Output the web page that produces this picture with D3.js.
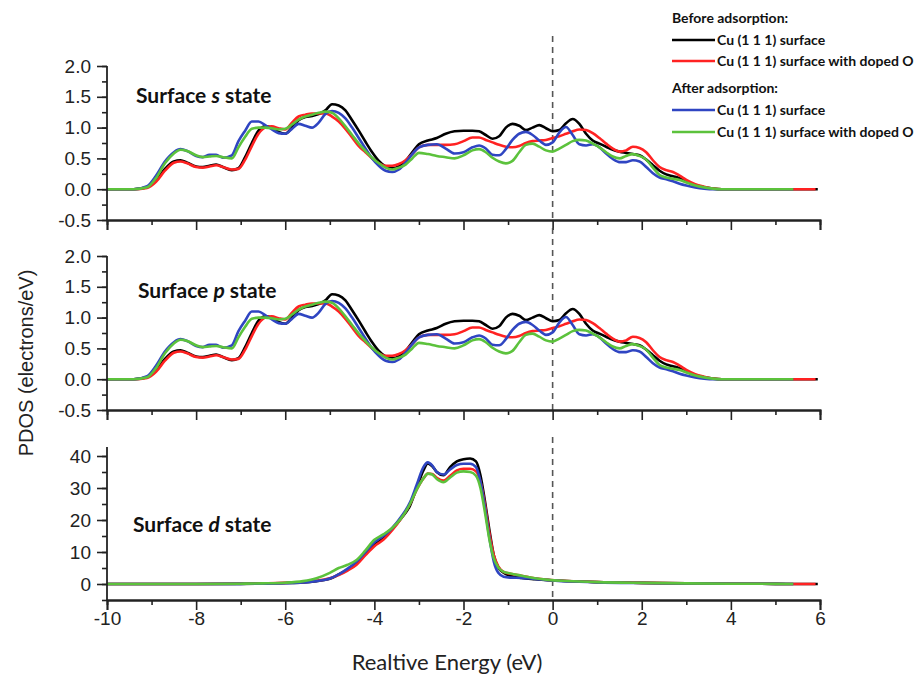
<!DOCTYPE html>
<html><head><meta charset="utf-8">
<script src="https://cdn.jsdelivr.net/npm/d3@7"></script>
<style>body{margin:0;background:#fff}</style>
</head><body><svg id="c" width="916" height="678"></svg>
<script>
// ---------------- data ----------------
const legendGroups = ["Before adsorption:", "After adsorption:"];
const seriesNames = ["Cu (1 1 1) surface", "Cu (1 1 1) surface with doped O", "Cu (1 1 1) surface", "Cu (1 1 1) surface with doped O"];
const seriesColors = ["#000000", "#ff2222", "#2f45c2", "#5cc23c"];
const xTicks = [-10, -8, -6, -4, -2, 0, 2, 4, 6];
const spTicks = [-0.5, 0.0, 0.5, 1.0, 1.5, 2.0];
const dTicks = [0, 10, 20, 30, 40];
const xTitle = "Realtive Energy (eV)";
const yTitle = "PDOS (electrons/eV)";
const panelLetters = ["s", "p", "d"];

// s (and p) state energy grid (eV)
const sEnergy = [-10,-9.4,-9.1,-8.9,-8.7,-8.5,-8.35,-8.2,-8.0,-7.85,-7.7,-7.55,-7.4,-7.2,-7.05,
 -6.9,-6.75,-6.6,-6.45,-6.3,-6.15,-6.0,-5.85,-5.7,-5.55,-5.4,-5.25,-5.1,-4.95,-4.8,-4.65,-4.5,-4.35,-4.2,-4.05,-3.9,-3.75,-3.6,-3.45,-3.3,-3.15,-3.0,
 -2.8,-2.6,-2.4,-2.2,-2.0,-1.8,
 -1.65,-1.5,-1.35,-1.2,-1.05,-0.9,-0.75,-0.6,-0.45,-0.3,-0.15,0,0.15,0.3,0.45,0.6,0.75,0.9,1.05,1.2,1.35,1.5,1.65,1.8,1.95,2.1,2.25,2.4,2.55,2.7,2.85,3.0,
 3.2,3.4,3.6,3.8,4.0,4.5,5.0,5.4,5.9,5.95];
const sBeforeCu = [0,0,0.03,0.15,0.33,0.45,0.47,0.43,0.37,0.36,0.38,0.40,0.36,0.31,0.34,
 0.52,0.75,0.95,1.02,1.0,0.93,0.9,1.0,1.12,1.17,1.19,1.22,1.28,1.38,1.36,1.28,1.12,0.95,0.77,0.6,0.46,0.37,0.34,0.37,0.46,0.6,0.73,
 0.79,0.83,0.9,0.94,0.95,0.95,
 0.94,0.88,0.82,0.86,1.0,1.06,1.03,0.96,1.0,1.04,0.99,0.94,0.96,1.07,1.14,1.06,0.9,0.79,0.74,0.69,0.64,0.61,0.59,0.57,0.55,0.48,0.39,0.3,0.24,0.21,0.18,0.13,
 0.07,0.03,0.01,0,0,0,0,0,0,0];
const sBeforeDoped = [0,0,0.02,0.12,0.3,0.43,0.45,0.42,0.36,0.35,0.37,0.39,0.36,0.32,0.33,
 0.48,0.7,0.9,1.0,1.02,0.99,0.97,1.08,1.18,1.21,1.23,1.23,1.23,1.18,1.1,0.98,0.84,0.7,0.6,0.5,0.42,0.38,0.38,0.41,0.47,0.57,0.68,
 0.72,0.72,0.72,0.73,0.78,0.84,
 0.84,0.8,0.76,0.72,0.69,0.68,0.7,0.75,0.78,0.79,0.8,0.83,0.86,0.9,0.94,0.97,0.96,0.91,0.83,0.74,0.66,0.61,0.63,0.69,0.67,0.6,0.47,0.36,0.31,0.28,0.22,0.15,
 0.08,0.04,0.01,0,0,0,0,0,0,null];
const sAfterCu = [0,0,0.05,0.22,0.45,0.6,0.65,0.62,0.54,0.52,0.56,0.56,0.51,0.55,0.78,
 0.95,1.1,1.1,1.04,0.97,0.91,0.9,0.98,1.06,1.03,1.0,1.08,1.22,1.27,1.24,1.15,1.0,0.83,0.66,0.5,0.38,0.3,0.28,0.32,0.43,0.57,0.68,
 0.72,0.73,0.66,0.58,0.6,0.68,
 0.71,0.66,0.56,0.55,0.65,0.8,0.9,0.93,0.88,0.79,0.72,0.76,0.92,1.01,0.88,0.73,0.71,0.73,0.68,0.58,0.49,0.44,0.44,0.47,0.45,0.36,0.26,0.19,0.16,0.13,0.09,0.06,
 0.03,0.01,0,0,0,0,0,0,null,null];
const sAfterDoped = [0,0,0.03,0.18,0.42,0.58,0.64,0.62,0.55,0.52,0.53,0.54,0.52,0.5,0.68,
 0.85,0.98,1.0,1.0,0.99,0.97,0.98,1.05,1.13,1.18,1.21,1.24,1.26,1.24,1.15,1.02,0.88,0.74,0.62,0.51,0.42,0.35,0.32,0.35,0.4,0.5,0.59,
 0.57,0.54,0.52,0.5,0.55,0.63,
 0.65,0.6,0.51,0.45,0.42,0.46,0.6,0.72,0.74,0.69,0.63,0.61,0.66,0.72,0.78,0.8,0.79,0.74,0.68,0.6,0.53,0.5,0.54,0.57,0.54,0.48,0.35,0.23,0.19,0.17,0.15,0.11,
 0.06,0.03,0.01,0,0,0,0,0,null,null];
// p state curves (same as s state in the figure)
const pBeforeCu = sBeforeCu.slice();
const pBeforeDoped = sBeforeDoped.slice();
const pAfterCu = sAfterCu.slice();
const pAfterDoped = sAfterDoped.slice();

// d state
const dEnergy = [-10,-8,-7,-6.5,-6,-5.6,-5.3,-5.0,-4.8,-4.6,-4.4,-4.2,-4.0,-3.8,-3.6,-3.4,-3.2,-3.05,-2.9,-2.8,
 -2.7,-2.6,-2.45,-2.3,-2.15,-2.0,-1.85,-1.72,-1.62,-1.52,-1.42,-1.32,-1.22,-1.1,-0.95,-0.7,-0.4,-0.1,0.2,0.6,
 1.0,2.0,3.0,4.0,5.0,5.4,5.9,5.95];
const dBeforeCu = [0,0,0.05,0.15,0.3,0.5,0.9,1.6,3.0,4.5,6.5,9.5,12.3,14.3,17.2,20.5,24.5,30,35.5,37.7,
 36.8,35,34,36.5,38.3,39,39.2,38.3,34,26,17,9,5.2,3.5,2.6,1.9,1.5,1.2,1.0,0.8,
 0.6,0.35,0.2,0.1,0.05,0,0,0];
const dBeforeDoped = [0,0,0.1,0.2,0.35,0.6,1.0,1.8,2.8,4.2,6.0,9.0,11.8,13.8,16.8,20.5,25,29.5,33,34.5,
 34.4,33.2,32.3,33.8,35.5,36,36,35.2,32,25,16,9,5.5,3.8,3.2,2.6,1.8,1.3,1.0,0.8,
 0.6,0.35,0.2,0.1,0.05,0,0,null];
const dAfterCu = [0,0,0.05,0.1,0.25,0.5,0.9,1.7,3.0,4.8,7.0,10,13,15,17.5,21,25.5,31,36.5,38,
 37,35,34.2,35.8,37.2,37.6,37.6,36.5,32,24,14.5,7,3.5,2.3,2.0,1.9,1.6,1.2,0.9,0.7,
 0.5,0.3,0.2,0.1,0.05,0,null,null];
const dAfterDoped = [0,0,0.1,0.2,0.4,0.9,1.8,3.5,5.0,6.0,7.5,10.5,13.8,15.5,17.5,20.5,25,29.5,33,34.5,
 34.2,32.8,31.8,33.3,34.8,35.2,35,33.8,30,22.5,14,8,5.2,3.8,3.3,2.6,1.8,1.3,1.0,0.8,
 0.6,0.35,0.2,0.1,0.05,0,null,null];

// ---------------- drawing ----------------
const svg = d3.select("#c");
const axisColor = "#222";
const x = d3.scaleLinear().domain([-10, 6]).range([107, 820]);
const hyphen = f => (d => f(d).replace("\u2212", "-"));

const panels = [
  {letter: panelLetters[0], energy: sEnergy, series: [sBeforeCu, sBeforeDoped, sAfterCu, sAfterDoped],
   y: d3.scaleLinear().domain([-0.5, 2.0]).range([220, 66]), ticks: spTicks, minorStep: 0.25, fmt: hyphen(d3.format(".1f")),
   axisTop: 66, labelPos: [136, 103], dashTop: 36},
  {letter: panelLetters[1], energy: sEnergy, series: [pBeforeCu, pBeforeDoped, pAfterCu, pAfterDoped],
   y: d3.scaleLinear().domain([-0.5, 2.0]).range([410, 256]), ticks: spTicks, minorStep: 0.25, fmt: hyphen(d3.format(".1f")),
   axisTop: 256, labelPos: [138, 298], dashTop: 228},
  {letter: panelLetters[2], energy: dEnergy, series: [dBeforeCu, dBeforeDoped, dAfterCu, dAfterDoped],
   y: d3.scaleLinear().domain([-5, 42.5]).range([600, 448]), ticks: dTicks, minorStep: 5, fmt: hyphen(d3.format("d")),
   axisTop: 447, labelPos: [133, 532], dashTop: 437, bottomLabels: true}
];

panels.forEach(p => {
  const g = svg.append("g");
  const y = p.y;
  const y0 = y.range()[0];
  // dashed zero line
  g.append("line").attr("x1", x(0)).attr("x2", x(0)).attr("y1", p.dashTop).attr("y2", y0)
    .attr("stroke", "#555").attr("stroke-width", 1.6).attr("stroke-dasharray", "6,5");

  // curves
  const line = d3.line().defined(d => d[1] !== null)
    .x(d => x(d[0])).y(d => y(d[1])).curve(d3.curveMonotoneX);
  p.series.forEach((vals, i) => {
    const pts = p.energy.map((e, k) => [e, vals[k]]);
    g.append("path").datum(pts).attr("d", line).attr("fill", "none")
      .attr("stroke", seriesColors[i]).attr("stroke-width", 2.6).attr("stroke-linejoin", "round");
  });

  // y axis (major)
  const yMinor = d3.range(y.domain()[0], p.ticks[p.ticks.length - 1] + 1e-9, p.minorStep);
  const ya = g.append("g").attr("transform", `translate(${x(-10)},0)`)
    .call(d3.axisLeft(y).tickValues(p.ticks).tickFormat(p.fmt).tickSize(10).tickPadding(6));
  const yam = g.append("g").attr("transform", `translate(${x(-10)},0)`)
    .call(d3.axisLeft(y).tickValues(yMinor).tickFormat("").tickSize(5));
  [ya, yam].forEach(a => {
    a.select(".domain").remove();
    a.selectAll("line").attr("stroke", axisColor).attr("stroke-width", 1.6);
  });
  ya.selectAll("text").attr("font-family", "'Liberation Sans', Arial, sans-serif").attr("font-size", 19).attr("fill", "#222");
  g.append("line").attr("x1", x(-10)).attr("x2", x(-10)).attr("y1", p.axisTop).attr("y2", y0)
    .attr("stroke", axisColor).attr("stroke-width", 1.8);

  // x axis (bottom of panel)
  const xa = g.append("g").attr("transform", `translate(0,${y0})`)
    .call(d3.axisBottom(x).tickValues(xTicks).tickFormat(p.bottomLabels ? hyphen(d3.format("d")) : "").tickSize(10).tickPadding(2));
  const xam = g.append("g").attr("transform", `translate(0,${y0})`)
    .call(d3.axisBottom(x).tickValues(d3.range(-9, 6, 2)).tickFormat("").tickSize(5));
  [xa, xam].forEach(a => {
    a.select(".domain").attr("stroke", axisColor).attr("stroke-width", 1.8);
    a.selectAll("line").attr("stroke", axisColor).attr("stroke-width", 1.6);
  });
  xa.selectAll("text").attr("font-family", "'Liberation Sans Narrow', 'Liberation Sans', Arial, sans-serif")
    .attr("font-size", 19).attr("fill", "#222");

  // panel label
  const t = g.append("text").attr("x", p.labelPos[0]).attr("y", p.labelPos[1])
    .attr("font-family", "Lato, 'Open Sans', sans-serif").attr("font-weight", "bold").attr("font-size", 21).attr("fill", "#111");
  t.append("tspan").text("Surface ");
  t.append("tspan").attr("font-style", "italic").text(p.letter);
  t.append("tspan").text(" state");
});

// axis titles
svg.append("text").attr("transform", "translate(33,363) rotate(-90)").attr("text-anchor", "middle")
  .attr("font-family", "'Liberation Sans', Arial, sans-serif").attr("font-size", 20).attr("fill", "#222").text(yTitle);
svg.append("text").attr("x", 447).attr("y", 670).attr("text-anchor", "middle")
  .attr("font-family", "Lato, sans-serif").attr("font-size", 22).attr("fill", "#222").text(xTitle);

// legend
const leg = svg.append("g").attr("font-family", "Lato, 'Open Sans', sans-serif").attr("font-weight", "bold").attr("font-size", 14).attr("fill", "#111");
const groupY = [18, 88];
const itemY = [40, 61, 110, 132];
legendGroups.forEach((txt, i) => {
  leg.append("text").attr("x", 672).attr("y", groupY[i] + 5).text(txt);
});
seriesNames.forEach((name, i) => {
  leg.append("line").attr("x1", 672).attr("x2", 715).attr("y1", itemY[i]).attr("y2", itemY[i])
    .attr("stroke", seriesColors[i]).attr("stroke-width", 2.4);
  leg.append("text").attr("x", 717).attr("y", itemY[i] + 5).text(name);
});
</script>
</body></html>
